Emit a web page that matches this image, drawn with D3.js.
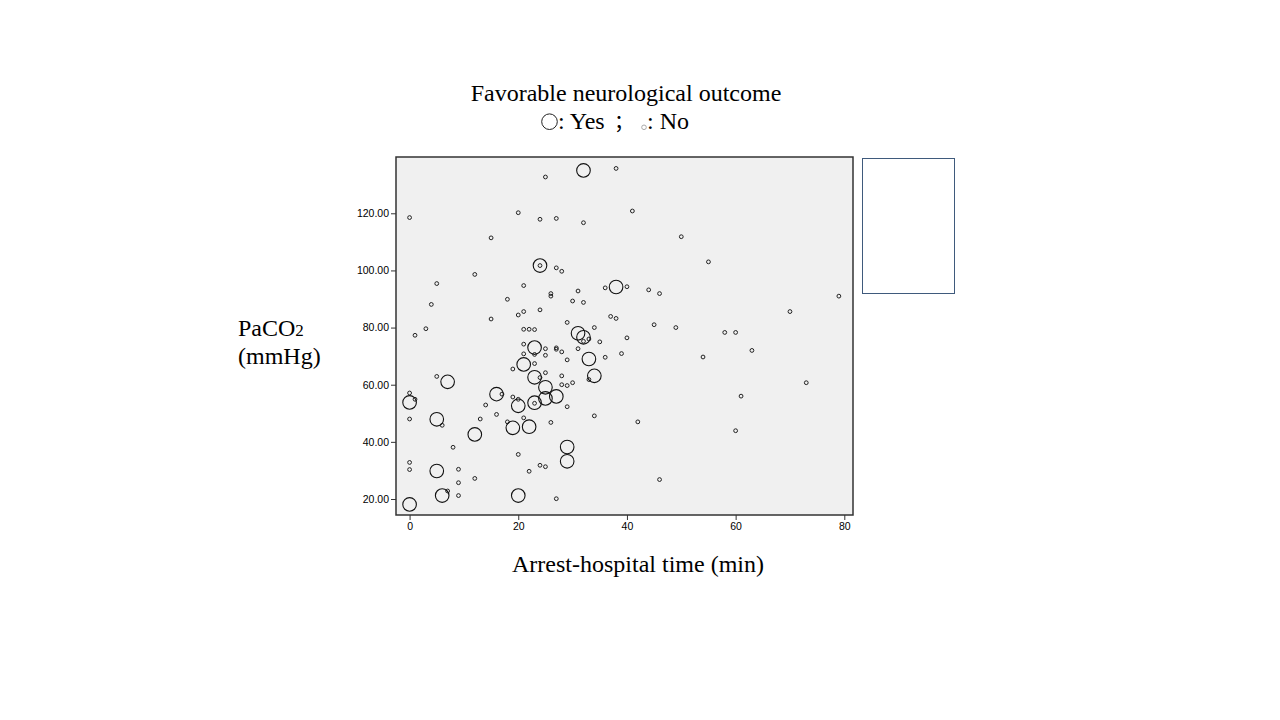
<!DOCTYPE html>
<html>
<head>
<meta charset="utf-8">
<script src="https://cdn.jsdelivr.net/npm/d3@7"></script>
<style>
  body { margin: 0; background: #fff; }
  svg { display: block; }
</style>
</head>
<body>
<div id="chart"></div>
<script>
// favorable outcome = Yes (big circles): [time, PaCO2]
var yesTime = [32, 24, 38, 31, 32, 23, 33, 21, 34, 23, 25, 27, 25, 16, 20, 23, 19, 22, 12, 29, 29, 7, 0, 5, 5, 6, 0, 20];
var yesPaco2 = [135.0, 101.7, 94.2, 78.0, 76.6, 73.0, 69.0, 67.1, 63.1, 62.6, 59.1, 55.9, 55.2, 56.7, 52.6, 53.7, 44.9, 45.3, 42.6, 38.2, 33.2, 61.0, 53.8, 47.9, 29.8, 21.2, 18.1, 21.2];

// favorable outcome = No (small circles)
var noTime = [25, 38, 0, 20, 24, 27, 32, 15, 24, 27, 28, 12, 5, 21, 26, 26, 31, 36, 18, 30,
  32, 4, 24, 21, 20, 37, 38, 15, 29, 3, 21, 22, 23, 34, 1, 32, 33, 35, 40, 21,
  25, 27, 27, 28, 31, 21, 23, 25, 39, 36, 29, 23, 19, 25, 24, 28, 33, 28, 29, 30,
  17, 19, 20, 23, 29, 14, 16, 13, 21, 18, 26, 34, 8, 20, 24, 25, 22, 27, 5, 0,
  1, 0, 6, 0, 0, 9, 9, 12, 7, 9, 41, 50, 55, 40, 44, 46, 79, 70, 45, 49,
  58, 60, 63, 54, 73, 61, 42, 60, 46];
var noPaco2 = [132.7, 135.7, 118.5, 120.2, 117.9, 118.2, 116.7, 111.4, 101.7, 100.9, 99.7, 98.6, 95.4, 94.7, 91.9, 91.0, 92.8, 93.9, 89.9, 89.3,
  88.8, 88.1, 86.2, 85.6, 84.4, 83.9, 83.2, 83.0, 81.8, 79.6, 79.4, 79.4, 79.3, 80.0, 77.3, 75.2, 76.0, 75.0, 76.4, 74.2,
  72.6, 72.9, 72.4, 71.5, 72.6, 70.8, 70.6, 70.3, 70.9, 69.6, 68.7, 67.4, 65.5, 64.2, 62.5, 63.1, 61.8, 60.0, 59.7, 60.7,
  56.7, 55.7, 54.9, 53.5, 52.3, 52.9, 49.6, 48.0, 48.4, 47.0, 46.8, 49.1, 38.1, 35.6, 31.8, 31.3, 29.7, 20.1, 62.9, 57.1,
  54.9, 48.0, 45.8, 32.8, 30.3, 30.4, 25.7, 27.2, 22.8, 21.2, 120.8, 111.8, 103.0, 94.3, 93.2, 91.9, 91.0, 85.6, 81.0, 80.0,
  78.3, 78.3, 72.0, 69.7, 60.7, 56.0, 47.0, 43.9, 26.8];

var xTicks = [0, 20, 40, 60, 80];
var yTicks = [20, 40, 60, 80, 100, 120];

var serif = "'Liberation Serif', 'Times New Roman', serif";
var sans = "'Liberation Sans', Arial, sans-serif";

var svg = d3.select("#chart")
  .append("svg")
    .attr("width", 1280)
    .attr("height", 720);

var plotL = 396, plotR = 853, plotT = 157, plotB = 515;

var x = d3.scaleLinear().domain([-2.5, 81.6]).range([plotL, plotR]);
var y = d3.scaleLinear().domain([14.4, 139.7]).range([plotB, plotT]);

// plot background
svg.append("rect")
  .attr("x", plotL).attr("y", plotT)
  .attr("width", plotR - plotL).attr("height", plotB - plotT)
  .style("fill", "#f0f0f0");

// axes
var yAxis = svg.append("g")
  .attr("transform", "translate(" + plotL + ",0)")
  .call(d3.axisLeft(y).tickValues(yTicks).tickFormat(d3.format(".2f")).tickSize(5).tickPadding(2));

var xAxis = svg.append("g")
  .attr("transform", "translate(0," + plotB + ")")
  .call(d3.axisBottom(x).tickValues(xTicks).tickFormat(d3.format("d")).tickSize(5).tickPadding(3));

[yAxis, xAxis].forEach(function(g) {
  g.select(".domain").remove();
  g.selectAll("line").style("stroke", "#333");
  g.selectAll("text").style("font-family", sans).style("font-size", "10.5px").style("fill", "#000");
});

// small points (No)
svg.append("g").selectAll("circle")
  .data(noTime.map(function(t, i) { return [t, noPaco2[i]]; }))
  .join("circle")
    .attr("cx", function(d) { return x(d[0]); })
    .attr("cy", function(d) { return y(d[1]); })
    .attr("r", 1.9)
    .style("fill", "none")
    .style("stroke", "#222")
    .style("stroke-width", 1);

// big points (Yes)
svg.append("g").selectAll("circle")
  .data(yesTime.map(function(t, i) { return [t, yesPaco2[i]]; }))
  .join("circle")
    .attr("cx", function(d) { return x(d[0]); })
    .attr("cy", function(d) { return y(d[1]); })
    .attr("r", 6.8)
    .style("fill", "none")
    .style("stroke", "#111")
    .style("stroke-width", 1.1);

// frame
svg.append("rect")
  .attr("x", plotL).attr("y", plotT)
  .attr("width", plotR - plotL).attr("height", plotB - plotT)
  .style("fill", "none")
  .style("stroke", "#333")
  .style("stroke-width", 1.5);

// empty legend box on the right
svg.append("rect")
  .attr("x", 862.5).attr("y", 158.5)
  .attr("width", 92).attr("height", 135)
  .style("fill", "#fff")
  .style("stroke", "#3f5a7c")
  .style("stroke-width", 1);

// title
svg.append("text")
  .attr("x", 626).attr("y", 101)
  .attr("text-anchor", "middle")
  .style("font-family", serif).style("font-size", "24px")
  .text("Favorable neurological outcome");

svg.append("circle")
  .attr("cx", 549.5).attr("cy", 121.7).attr("r", 7.8)
  .style("fill", "none").style("stroke", "#222").style("stroke-width", 1);

svg.append("text")
  .attr("x", 558).attr("y", 129)
  .style("font-family", serif).style("font-size", "24px")
  .text(": Yes");

svg.append("text")
  .attr("x", 614).attr("y", 129)
  .style("font-family", "'Noto Sans CJK SC', serif").style("font-size", "20px")
  .text("；");

svg.append("circle")
  .attr("cx", 644).attr("cy", 127.3).attr("r", 2.3)
  .style("fill", "none").style("stroke", "#aaa").style("stroke-width", 1);

svg.append("text")
  .attr("x", 647).attr("y", 129)
  .style("font-family", serif).style("font-size", "24px")
  .text(": No");

// axis titles
var yLab = svg.append("text")
  .attr("x", 238).attr("y", 336)
  .style("font-family", serif).style("font-size", "24px");
yLab.append("tspan").text("PaCO");
yLab.append("tspan").style("font-size", "17px").text("2");

svg.append("text")
  .attr("x", 238).attr("y", 364)
  .style("font-family", serif).style("font-size", "24px")
  .text("(mmHg)");

svg.append("text")
  .attr("x", 638).attr("y", 572)
  .attr("text-anchor", "middle")
  .style("font-family", serif).style("font-size", "24px")
  .text("Arrest-hospital time (min)");
</script>
</body>
</html>
